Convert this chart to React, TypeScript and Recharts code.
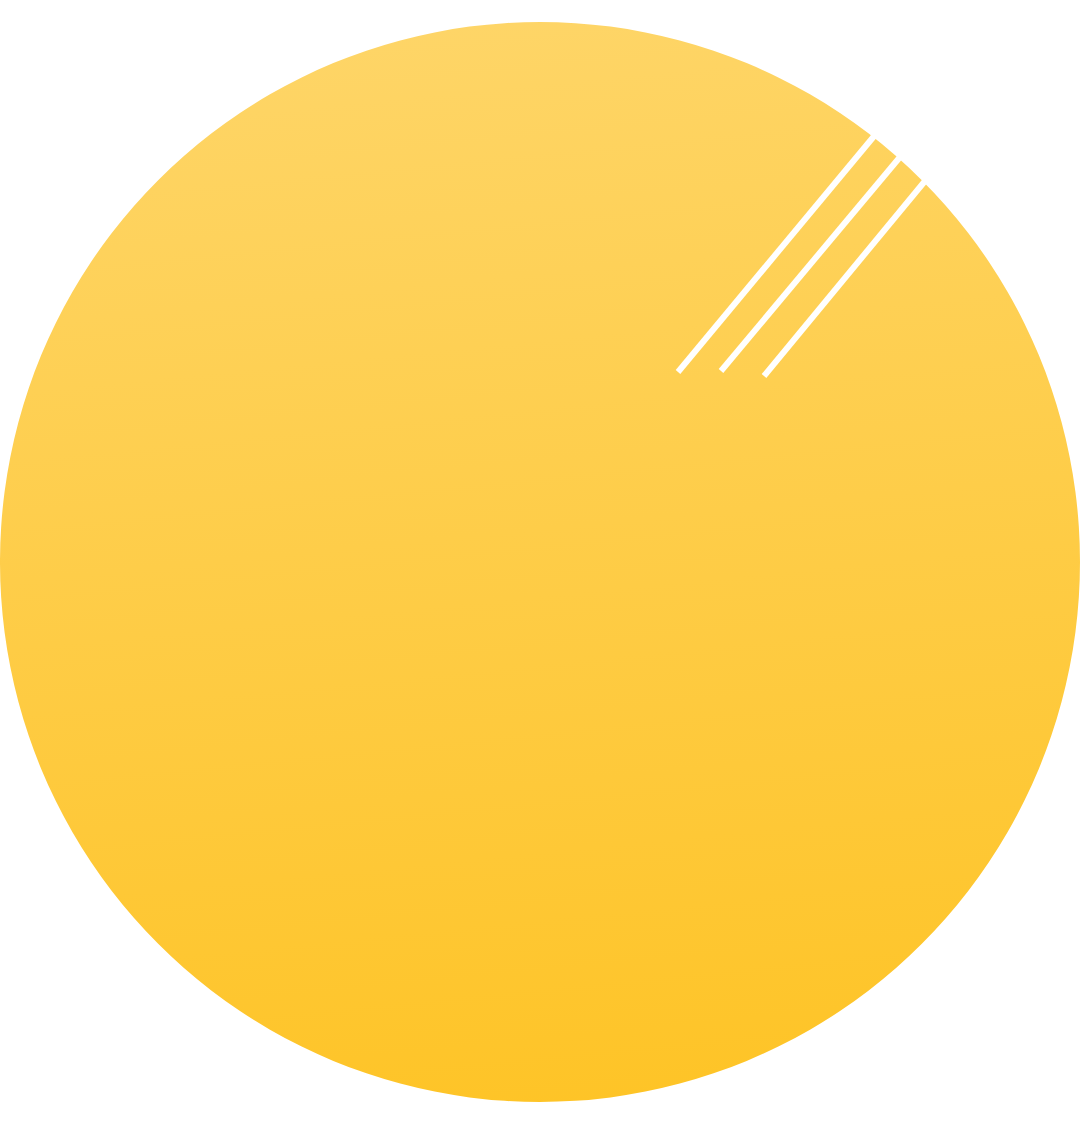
import React from 'react';
import { PieChart, Pie, Cell, LineChart, Line, XAxis, YAxis } from 'recharts';

const W = 1080;
const H = 1126;

// single full slice forming the disc
const sliceNames = ['sun'];
const sliceValues = [100];

// white stripe segments (x, y in page pixels, y downwards)
const stripeA = [
  { x: 678, y: 372 },
  { x: 875, y: 135 },
];
const stripeB = [
  { x: 721, y: 371 },
  { x: 900, y: 157 },
];
const stripeC = [
  { x: 764, y: 376 },
  { x: 925, y: 181 },
];

const pieData = sliceNames.map((n, i) => ({ name: n, value: sliceValues[i] }));

export default function App() {
  return (
    <div style={{ position: 'absolute', left: 0, top: 0, width: W, height: H, background: '#ffffff' }}>
      <div style={{ position: 'absolute', left: 0, top: 0 }}>
        <PieChart width={W} height={H} margin={{ top: 0, right: 0, bottom: 0, left: 0 }}>
          <defs>
            <linearGradient id="sunGrad" x1="0.45" y1="0" x2="0.55" y2="1">
              <stop offset="0%" stopColor="#FED567" />
              <stop offset="100%" stopColor="#FEC427" />
            </linearGradient>
          </defs>
          <Pie
            data={pieData}
            dataKey="value"
            nameKey="name"
            cx={540}
            cy={562}
            innerRadius={0}
            outerRadius={540}
            startAngle={90}
            endAngle={-270}
            stroke="none"
            isAnimationActive={false}
          >
            {pieData.map((d) => (
              <Cell key={d.name} fill="url(#sunGrad)" stroke="none" />
            ))}
          </Pie>
        </PieChart>
      </div>
      <div style={{ position: 'absolute', left: 0, top: 0 }}>
        <LineChart width={W} height={H} margin={{ top: 0, right: 0, bottom: 0, left: 0 }}>
          <XAxis type="number" dataKey="x" domain={[0, W]} hide allowDataOverflow />
          <YAxis type="number" dataKey="y" domain={[0, H]} reversed hide allowDataOverflow />
          {[stripeA, stripeB, stripeC].map((s, i) => (
            <Line
              key={i}
              data={s}
              dataKey="y"
              type="linear"
              stroke="#ffffff"
              strokeWidth={6}
              strokeLinecap="butt"
              dot={false}
              activeDot={false}
              isAnimationActive={false}
            />
          ))}
        </LineChart>
      </div>
    </div>
  );
}
